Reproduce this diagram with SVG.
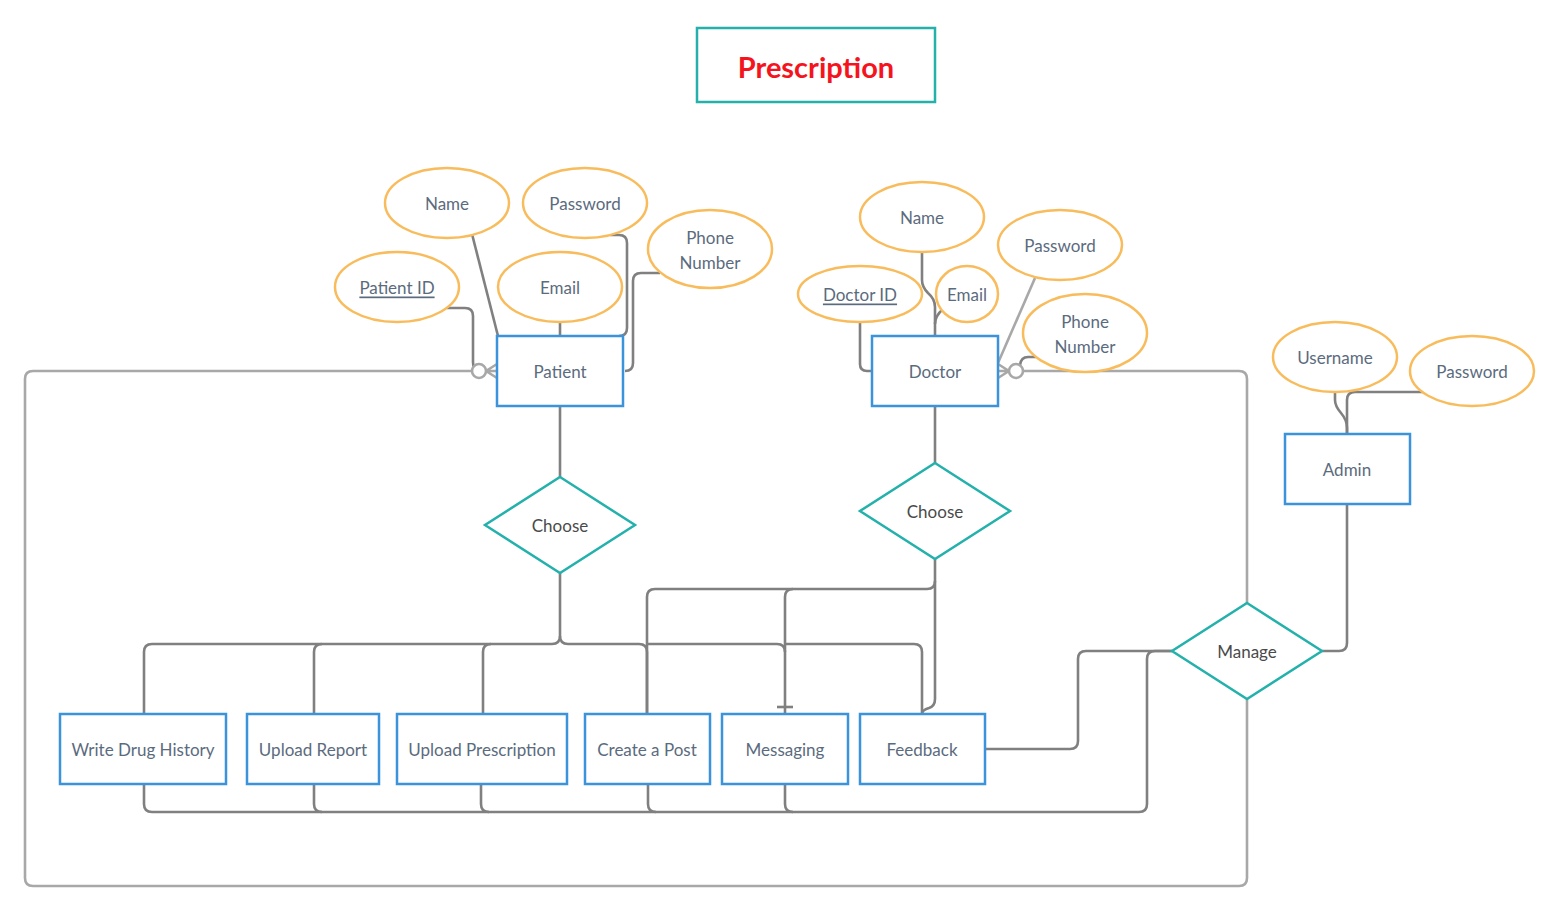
<svg xmlns="http://www.w3.org/2000/svg" width="1560" height="915" viewBox="0 0 1560 915">
<style>
text{font-family:Lato,"Open Sans","Liberation Sans",sans-serif;font-size:17px;fill:#5b6b7e;text-anchor:middle;dominant-baseline:central}
.attr{fill:#fff;stroke:#f8bc5c;stroke-width:2.5}
.ent{fill:#fff;stroke:#3a93db;stroke-width:2.5}
.rel{fill:#fff;stroke:#24b1ac;stroke-width:2.5}
.rl{fill:#4a4a4a}
.c{fill:none;stroke:#808080;stroke-width:2.6;stroke-linejoin:round}
.cl{fill:none;stroke:#a8a8a8;stroke-width:2.6;stroke-linejoin:round}
.ring{fill:#fff;stroke:#a8a8a8;stroke-width:2.6}
.u{text-decoration:underline}
</style>
<rect width="1560" height="915" fill="#fff"/>
<g id="connectors">
<!-- patient attributes -->
<path class="c" d="M472,234 L498,336"/>
<path class="c" d="M610,235 H619 Q627,235 627,243 V328 Q627,336 619,336"/>
<path class="c" d="M560,322 V336"/>
<path class="c" d="M660,273 H641 Q633,273 633,281 V363 Q633,371 625,371"/>
<path class="c" d="M447,308 H465 Q473,308 473,316 V362 Q473,369 478,371"/>
<!-- doctor attributes -->
<path class="c" d="M922,252 V280 Q922,287 928,293 Q935,299 935,307 V336"/>
<path class="c" d="M943,309 Q935,316 935,324"/>
<path class="c" d="M860,322 V364 Q860,371 867,371 H872"/>
<path class="cl" d="M1035,278 L998,363"/>
<path class="c" d="M1036,357 H1028 Q1021,357 1020,365"/>
<!-- admin attributes -->
<path class="c" d="M1335,392 V400 Q1335,406 1341,413 Q1347,420 1347,428 V434"/>
<path class="c" d="M1423,392 H1355 Q1347,392 1347,400 V434"/>
<path class="c" d="M1347,504 V643 Q1347,651 1339,651 H1322"/>
<!-- entity to relationship -->
<path class="c" d="M560,406 V477"/>
<path class="c" d="M935,406 V463"/>
<!-- patient choose branches -->
<path class="c" d="M560,573 V636 Q560,644 552,644 H152 Q144,644 144,652 V714"/>
<path class="c" d="M322,644 Q314,644 314,652 V714"/>
<path class="c" d="M491,644 Q483,644 483,652 V714"/>
<path class="c" d="M560,636 Q560,644 568,644 H639 Q647,644 647,652 V714"/>
<path class="c" d="M647,644 H777 Q785,644 785,652"/>
<path class="c" d="M785,644 H914 Q922,644 922,652 V714"/>
<!-- doctor choose branches -->
<path class="c" d="M935,559 V581 Q935,589 927,589 H655 Q647,589 647,597 V714"/>
<path class="c" d="M793,589 Q785,589 785,597 V714"/>
<path class="c" d="M777,707 H793"/>
<path class="c" d="M935,581 V699 Q935,706 929,708 Q922,710 922,714"/>
<!-- to manage -->
<path class="c" d="M985,749 H1070 Q1078,749 1078,741 V659 Q1078,651 1086,651 H1172"/>
<path class="c" d="M144,784 V804 Q144,812 152,812 H1139 Q1147,812 1147,804 V659 Q1147,651 1155,651 H1172"/>
<path class="c" d="M314,784 V804 Q314,812 322,812"/>
<path class="c" d="M481,784 V804 Q481,812 489,812"/>
<path class="c" d="M648,784 V804 Q648,812 656,812"/>
<path class="c" d="M785,784 V804 Q785,812 793,812"/>
<!-- big loops -->
<path class="cl" d="M472,371 H33 Q25,371 25,379 V878 Q25,886 33,886 H1239 Q1247,886 1247,878 V699"/>
<path class="cl" d="M1247,603 V379 Q1247,371 1239,371 H1023"/>
<!-- crow's feet -->
<circle class="ring" cx="479" cy="371" r="7"/>
<path class="cl" d="M486,371 H497 M486,371 L497,364 M486,371 L497,378"/>
<circle class="ring" cx="1016" cy="371" r="7"/>
<path class="cl" d="M1009,371 H998 M1009,371 L998,364 M1009,371 L998,378"/>
</g>
<g id="title">
<rect x="697" y="28" width="238" height="74" fill="#fff" stroke="#24b1ac" stroke-width="2.5"/>
<text x="816" y="66" style="fill:#f5141e;font-size:29px;font-weight:700">Prescription</text>
</g>
<g id="patient-name"><ellipse class="attr" cx="447" cy="203" rx="62" ry="35"/><text x="447" y="203">Name</text></g>
<g id="patient-password"><ellipse class="attr" cx="585" cy="203" rx="62" ry="35"/><text x="585" y="203">Password</text></g>
<g id="patient-phone"><ellipse class="attr" cx="710" cy="249" rx="62" ry="39"/><text x="710" y="237">Phone</text><text x="710" y="262">Number</text></g>
<g id="patient-id"><ellipse class="attr" cx="397" cy="287" rx="62" ry="35"/><text class="u" x="397" y="287">Patient ID</text></g>
<g id="patient-email"><ellipse class="attr" cx="560" cy="287" rx="62" ry="35"/><text x="560" y="287">Email</text></g>
<g id="patient"><rect class="ent" x="497" y="336" width="126" height="70"/><text x="560" y="371">Patient</text></g>
<g id="doctor-name"><ellipse class="attr" cx="922" cy="217" rx="62" ry="35"/><text x="922" y="217">Name</text></g>
<g id="doctor-password"><ellipse class="attr" cx="1060" cy="245" rx="62" ry="35"/><text x="1060" y="245">Password</text></g>
<g id="doctor-id"><ellipse class="attr" cx="860" cy="294" rx="62" ry="28"/><text class="u" x="860" y="294">Doctor ID</text></g>
<g id="doctor-email"><ellipse class="attr" cx="967" cy="294" rx="31" ry="28"/><text x="967" y="294">Email</text></g>
<g id="doctor-phone"><ellipse class="attr" cx="1085" cy="333" rx="62" ry="39"/><text x="1085" y="321">Phone</text><text x="1085" y="346">Number</text></g>
<g id="doctor"><rect class="ent" x="872" y="336" width="126" height="70"/><text x="935" y="371">Doctor</text></g>
<g id="admin-username"><ellipse class="attr" cx="1335" cy="357" rx="62" ry="35"/><text x="1335" y="357">Username</text></g>
<g id="admin-password"><ellipse class="attr" cx="1472" cy="371" rx="62" ry="35"/><text x="1472" y="371">Password</text></g>
<g id="admin"><rect class="ent" x="1285" y="434" width="125" height="70"/><text x="1347" y="469">Admin</text></g>
<g id="patient-choose"><polygon class="rel" points="560,477 635,525 560,573 485,525"/><text class="rl" x="560" y="525">Choose</text></g>
<g id="doctor-choose"><polygon class="rel" points="935,463 1010,511 935,559 860,511"/><text class="rl" x="935" y="511">Choose</text></g>
<g id="manage"><polygon class="rel" points="1247,603 1322,651 1247,699 1172,651"/><text class="rl" x="1247" y="651">Manage</text></g>
<g id="write-drug-history"><rect class="ent" x="60" y="714" width="166" height="70"/><text x="143" y="749">Write Drug History</text></g>
<g id="upload-report"><rect class="ent" x="247" y="714" width="132" height="70"/><text x="313" y="749">Upload Report</text></g>
<g id="upload-prescription"><rect class="ent" x="397" y="714" width="170" height="70"/><text x="482" y="749">Upload Prescription</text></g>
<g id="create-post"><rect class="ent" x="585" y="714" width="125" height="70"/><text x="647" y="749">Create a Post</text></g>
<g id="messaging"><rect class="ent" x="722" y="714" width="126" height="70"/><text x="785" y="749">Messaging</text></g>
<g id="feedback"><rect class="ent" x="860" y="714" width="125" height="70"/><text x="922" y="749">Feedback</text></g>
</svg>
